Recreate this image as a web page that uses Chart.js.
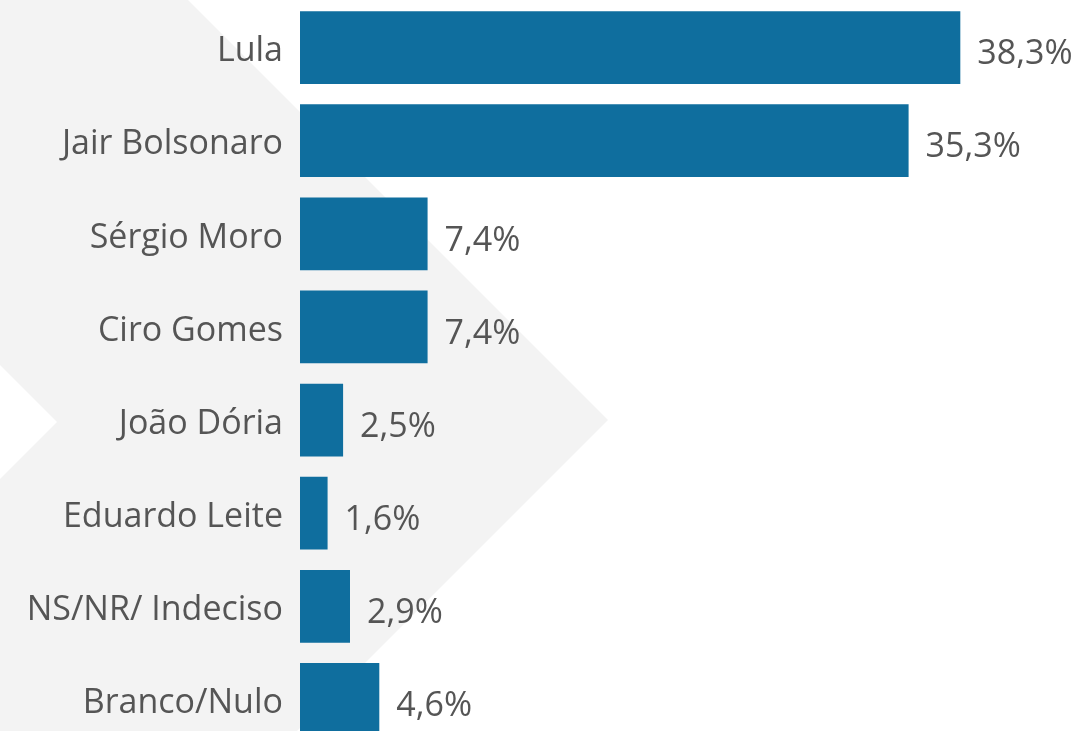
<!DOCTYPE html>
<html>
<head>
<meta charset="utf-8">
<script src="https://cdn.jsdelivr.net/npm/chart.js@4"></script>
<style>
  html, body { margin: 0; padding: 0; background: #ffffff; overflow: hidden; }
  #wrap { position: relative; width: 1081px; height: 746px; }
</style>
</head>
<body>
<div id="wrap"><canvas id="c"></canvas></div>
<script>
const categories = ["Lula", "Jair Bolsonaro", "Sérgio Moro", "Ciro Gomes", "João Dória", "Eduardo Leite", "NS/NR/ Indeciso", "Branco/Nulo"];
const values = [38.3, 35.3, 7.4, 7.4, 2.5, 1.6, 2.9, 4.6];
const valueLabels = ["38,3%", "35,3%", "7,4%", "7,4%", "2,5%", "1,6%", "2,9%", "4,6%"];

const FONT = "'Open Sans', 'Noto Sans', sans-serif";
const TEXT = "#555555";

const chevronPlugin = {
  id: "chevron",
  beforeDraw(chart) {
    const ctx = chart.ctx;
    ctx.save();
    ctx.fillStyle = "#f3f3f3";
    ctx.beginPath();
    ctx.moveTo(0, 0);
    ctx.lineTo(188, 0);
    ctx.lineTo(608, 420);
    ctx.lineTo(271, 757);
    ctx.lineTo(0, 757);
    ctx.lineTo(0, 479);
    ctx.lineTo(57, 422);
    ctx.lineTo(0, 365);
    ctx.closePath();
    ctx.fill();
    ctx.restore();
  }
};

const valueLabelPlugin = {
  id: "valueLabels",
  afterDatasetsDraw(chart) {
    const ctx = chart.ctx;
    const meta = chart.getDatasetMeta(0);
    ctx.save();
    ctx.fillStyle = TEXT;
    ctx.font = "34px " + FONT;
    ctx.textAlign = "left";
    ctx.textBaseline = "middle";
    meta.data.forEach((bar, i) => {
      ctx.fillText(valueLabels[i], bar.x + 17, bar.y + 7);
    });
    ctx.restore();
  }
};

new Chart(document.getElementById("c"), {
  type: "bar",
  data: {
    labels: categories,
    datasets: [{
      data: values,
      backgroundColor: "#0f6e9e",
      borderWidth: 0,
      barPercentage: 0.78,
      categoryPercentage: 1.0
    }]
  },
  options: {
    indexAxis: "y",
    responsive: true,
    maintainAspectRatio: false,
    animation: false,
    layout: { padding: { top: 1, bottom: 0, left: 0, right: 0 } },
    plugins: {
      legend: { display: false },
      tooltip: { enabled: false }
    },
    scales: {
      x: {
        display: false,
        min: 0,
        max: 45.3
      },
      y: {
        grid: { display: false, drawTicks: false },
        border: { display: false },
        ticks: {
          color: TEXT,
          font: { family: FONT, size: 34 },
          padding: 17,
          labelOffset: 4
        },
        afterFit(scale) {
          scale.width = 300;
          scale.paddingTop = 0;
          scale.paddingBottom = 0;
        }
      }
    }
  },
  plugins: [chevronPlugin, valueLabelPlugin]
});
</script>
</body>
</html>
